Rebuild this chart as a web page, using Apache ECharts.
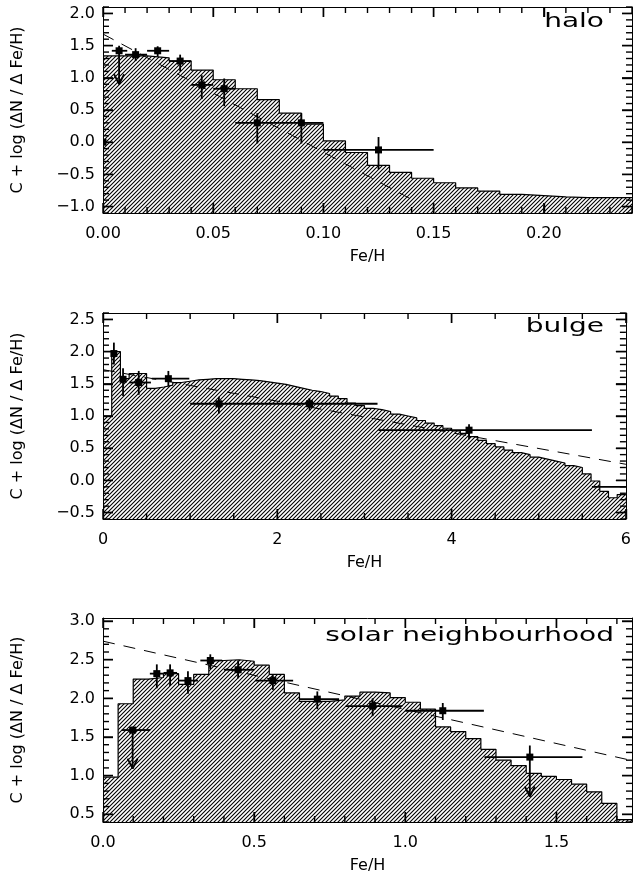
<!DOCTYPE html>
<html><head><meta charset="utf-8">
<script src="https://cdn.jsdelivr.net/npm/echarts@6/dist/echarts.min.js"></script>
<style>html,body{margin:0;padding:0;background:#fff}#c{width:634px;height:875px}</style>
</head><body><div id="c"></div>
<script>
// ================= DATA =================
// --- halo ---
const haloBinStart = 0.00, haloBinWidth = 0.01;
const haloHist = [1.34, 1.34, 1.31, 1.26, 1.12, 0.97, 0.83, 0.66, 0.45, 0.28, 0.02, -0.16,
                  -0.36, -0.47, -0.56, -0.63, -0.71, -0.76, -0.81, -0.83, -0.85, -0.86, -0.86, -0.86];
const haloPtX  = [0.000, 0.0073, 0.0148, 0.0248, 0.035, 0.0448, 0.055, 0.070, 0.090, 0.125];
const haloPtY  = [0.00, 1.42, 1.36, 1.42, 1.26, 0.89, 0.83, 0.30, 0.30, -0.12];
const haloXLo  = [null, 0.004, 0.010, 0.020, 0.030, 0.040, 0.050, 0.060, 0.080, 0.100];
const haloXHi  = [null, 0.011, 0.020, 0.030, 0.040, 0.050, 0.060, 0.080, 0.100, 0.150];
const haloYLo  = [null, null, 1.26, 1.33, 1.10, 0.67, 0.56, -0.02, -0.02, -0.42];
const haloYHi  = [null, 1.50, 1.46, 1.49, 1.36, 1.04, 0.99, 0.45, 0.45, 0.08];
const haloArrow = [null, 0.90, null, null, null, null, null, null, null, null];
const haloFitX = [0.0, 0.1417];
const haloFitY = [1.68, -0.92];
const haloXTicks = [0, 0.05, 0.10, 0.15, 0.20];
const haloYTicks = [-1.0, -0.5, 0.0, 0.5, 1.0, 1.5, 2.0];

// --- bulge ---
const bulgeBinStart = 0.0, bulgeBinWidth = 0.1;
const bulgeHist = [1.00, 2.00, 1.58, 1.66, 1.66, 1.43, 1.45, 1.48, 1.52, 1.54,
                   1.56, 1.57, 1.58, 1.58, 1.58, 1.57, 1.56, 1.55, 1.53, 1.51,
                   1.49, 1.46, 1.43, 1.40, 1.38, 1.35, 1.31, 1.27, 1.20, 1.16,
                   1.12, 1.10, 1.07, 1.03, 1.00, 0.97, 0.93, 0.89, 0.85, 0.81,
                   0.77, 0.73, 0.68, 0.62, 0.57, 0.52, 0.47, 0.43, 0.40, 0.36,
                   0.33, 0.30, 0.27, 0.23, 0.20, 0.10, -0.01, -0.17, -0.27, -0.22];
const bulgePtX = [0.125, 0.23, 0.41, 0.75, 1.33, 2.37, 4.20];
const bulgePtY = [1.97, 1.57, 1.52, 1.58, 1.19, 1.19, 0.78];
const bulgeXLo = [0.10, 0.20, 0.30, 0.56, 1.00, 1.85, 3.16];
const bulgeXHi = [0.15, 0.27, 0.55, 0.99, 1.85, 3.15, 5.61];
const bulgeYLo = [1.80, 1.31, 1.33, 1.46, 1.04, 1.08, 0.64];
const bulgeYHi = [2.14, 1.74, 1.70, 1.70, 1.30, 1.28, 0.87];
const bulgeArrow = [null, null, null, null, null, null, null];
const bulgeTailX = [5.61, 6.0];
const bulgeTailY = [-0.10, -0.10];
const bulgeFitX = [0.0, 6.0];
const bulgeFitY = [1.72, 0.25];
const bulgeXTicks = [0, 2, 4, 6];
const bulgeYTicks = [-0.5, 0.0, 0.5, 1.0, 1.5, 2.0, 2.5];

// --- solar neighbourhood ---
const solarBinStart = 0.0, solarBinWidth = 0.05;
const solarHist = [0.98, 1.93, 2.25, 2.27, 2.32, 2.18, 2.31, 2.49, 2.50, 2.48,
                   2.43, 2.31, 2.07, 1.96, 1.96, 1.98, 2.03, 2.08, 2.07, 2.01,
                   1.95, 1.86, 1.63, 1.57, 1.48, 1.34, 1.20, 1.13, 1.03, 0.99,
                   0.95, 0.89, 0.79, 0.64, 0.43];
const solarPtX = [0.098, 0.178, 0.222, 0.281, 0.355, 0.447, 0.562, 0.709, 0.892, 1.124, 1.412];
const solarPtY = [1.59, 2.32, 2.33, 2.23, 2.49, 2.37, 2.23, 1.99, 1.90, 1.84, 1.24];
const solarXLo = [0.062, 0.155, 0.200, 0.250, 0.322, 0.400, 0.504, 0.648, 0.803, 1.000, 1.262];
const solarXHi = [0.156, 0.200, 0.245, 0.314, 0.394, 0.500, 0.629, 0.781, 0.990, 1.260, 1.586];
const solarYLo = [null, 2.13, 2.16, 2.06, 2.38, 2.26, 2.11, 1.86, 1.77, 1.72, null];
const solarYHi = [null, 2.44, 2.44, 2.35, 2.57, 2.49, 2.30, 2.09, 2.00, 1.94, 1.39];
const solarArrow = [1.09, null, null, null, null, null, null, null, null, null, 0.73];
const solarFitX = [0.0, 1.75];
const solarFitY = [2.74, 1.195];
const solarXTicks = [0.0, 0.5, 1.0, 1.5];
const solarYTicks = [0.5, 1.0, 1.5, 2.0, 2.5, 3.0];

// ================= BUILD =================
const FONT = 'DejaVu Sans';
const BLACK = '#000';
const minusFmt = (d) => (v) => v.toFixed(d).replace('-', '\u2212');

function hatchCanvas() {
  const s = 4;
  const c = document.createElement('canvas');
  c.width = s; c.height = s;
  const g = c.getContext('2d');
  g.fillStyle = '#fff'; g.fillRect(0, 0, s, s);
  g.strokeStyle = '#000'; g.lineWidth = 1.1;
  g.beginPath();
  g.moveTo(0, s); g.lineTo(s, 0);
  g.moveTo(-1, 1); g.lineTo(1, -1);
  g.moveTo(s - 1, s + 1); g.lineTo(s + 1, s - 1);
  g.stroke();
  return c;
}
const hatch = { image: hatchCanvas(), repeat: 'repeat' };

function stepVals(min, max, step) {
  const out = [];
  const a = Math.ceil(min / step - 1e-9), b = Math.floor(max / step + 1e-9);
  for (let k = a; k <= b; k++) out.push(+(k * step).toFixed(6));
  return out;
}

const panels = [
  { grid: {left: 103, top: 7, width: 529, height: 206},
    xr: [0, 0.24], yr: [-1.1, 2.1], xt: haloXTicks, yt: haloYTicks, xm: 0.01, ym: 0.1,
    xfmt: minusFmt(2), yfmt: minusFmt(1),
    bin0: haloBinStart, bw: haloBinWidth, hist: haloHist,
    px: haloPtX, py: haloPtY, xlo: haloXLo, xhi: haloXHi, ylo: haloYLo, yhi: haloYHi, arrow: haloArrow,
    fx: haloFitX, fy: haloFitY, title: 'halo', tx: 604, ty: 22 },
  { grid: {left: 103, top: 313, width: 529, height: 206},
    xr: [0, 6], yr: [-0.6, 2.6], xt: bulgeXTicks, yt: bulgeYTicks, xm: 0.5, ym: 0.1,
    xfmt: minusFmt(0), yfmt: minusFmt(1),
    bin0: bulgeBinStart, bw: bulgeBinWidth, hist: bulgeHist,
    px: bulgePtX, py: bulgePtY, xlo: bulgeXLo, xhi: bulgeXHi, ylo: bulgeYLo, yhi: bulgeYHi, arrow: bulgeArrow,
    fx: bulgeFitX, fy: bulgeFitY, tail: [bulgeTailX, bulgeTailY], title: 'bulge', tx: 604, ty: 327 },
  { grid: {left: 103, top: 618, width: 529, height: 207},
    xr: [0, 1.75], yr: [0.4, 3.04], xt: solarXTicks, yt: solarYTicks, xm: 0.1, ym: 0.1,
    xfmt: minusFmt(1), yfmt: minusFmt(1),
    bin0: solarBinStart, bw: solarBinWidth, hist: solarHist,
    px: solarPtX, py: solarPtY, xlo: solarXLo, xhi: solarXHi, ylo: solarYLo, yhi: solarYHi, arrow: solarArrow,
    fx: solarFitX, fy: solarFitY, title: 'solar neighbourhood', tx: 614, ty: 636 }
];

const grid = [], xAxis = [], yAxis = [], series = [], graphic = [];
const txt = { color: BLACK, fontFamily: FONT, fontSize: 16 };
const MAJOR_LEN = 10, MINOR_LEN = 6;
const tickStyle = { color: BLACK, width: 1.4 };

panels.forEach((P, gi) => {
  grid.push(Object.assign({ show: false, containLabel: false }, P.grid));
  const xmin = P.xr[0], xmax = P.xr[1], ymin = P.yr[0], ymax = P.yr[1];
  const cx = { gridIndex: gi, type: 'value', min: xmin, max: xmax, z: 10, splitLine: { show: false }, axisPointer: { show: false } };
  const cy = { gridIndex: gi, type: 'value', min: ymin, max: ymax, z: 10, splitLine: { show: false }, axisPointer: { show: false } };
  ['bottom', 'top'].forEach((pos) => {
    xAxis.push(Object.assign({}, cx, {
      position: pos,
      axisLine: { show: true, onZero: false, lineStyle: { color: BLACK, width: 1 } },
      axisTick: { show: true, inside: true, length: MAJOR_LEN, customValues: P.xt, lineStyle: tickStyle },
      axisLabel: pos === 'bottom'
        ? Object.assign({ show: true, customValues: P.xt, formatter: P.xfmt, margin: 13 }, txt)
        : { show: false },
      name: pos === 'bottom' ? 'Fe/H' : '',
      nameLocation: 'middle', nameGap: 36, nameTextStyle: txt
    }));
  });
  ['left', 'right'].forEach((pos) => {
    yAxis.push(Object.assign({}, cy, {
      position: pos,
      axisLine: { show: true, onZero: false, lineStyle: { color: BLACK, width: 1 } },
      axisTick: { show: true, inside: true, length: MAJOR_LEN, customValues: P.yt, lineStyle: tickStyle },
      axisLabel: pos === 'left'
        ? Object.assign({ show: true, customValues: P.yt, formatter: P.yfmt, margin: 8 }, txt)
        : { show: false },
      name: pos === 'left' ? 'C + log (\u0394N / \u0394 Fe/H)' : '',
      nameLocation: 'middle', nameGap: 77, nameRotate: 90, nameTextStyle: txt
    }));
  });
  const xi = gi * 2, yi = gi * 2;

  // histogram (stepped, hatched)
  const hd = P.hist.map((v, i) => [P.bin0 + i * P.bw, v]);
  hd.push([P.bin0 + P.hist.length * P.bw, P.hist[P.hist.length - 1]]);
  series.push({
    type: 'line', xAxisIndex: xi, yAxisIndex: yi, data: hd, step: 'end', symbol: 'none',
    lineStyle: { color: BLACK, width: 1.2 }, areaStyle: { color: hatch, opacity: 1, origin: 'start' },
    z: 2, silent: true, animation: false, clip: true
  });
  // dashed fit line
  series.push({
    type: 'line', xAxisIndex: xi, yAxisIndex: yi, data: P.fx.map((x, i) => [x, P.fy[i]]), symbol: 'none',
    lineStyle: { color: BLACK, width: 1, type: [12, 9] }, z: 3, silent: true, animation: false, clip: true
  });
  if (P.tail) {
    series.push({
      type: 'line', xAxisIndex: xi, yAxisIndex: yi, data: P.tail[0].map((x, i) => [x, P.tail[1][i]]), symbol: 'none',
      lineStyle: { color: BLACK, width: 1.8 }, z: 4, silent: true, animation: false, clip: true
    });
  }
  // data points with error bars / upper-limit arrows
  series.push({
    type: 'custom', xAxisIndex: xi, yAxisIndex: yi, clip: true, z: 5, silent: true, animation: false,
    data: P.px.map((x, i) => [x, P.py[i]]),
    encode: { x: 0, y: 1 },
    renderItem: function (params, api) {
      const i = params.dataIndex;
      const st = { stroke: BLACK, lineWidth: 1.8 };
      const ch = [];
      const p = api.coord([P.px[i], P.py[i]]);
      const seg = (a, b) => ch.push({ type: 'line', shape: { x1: a[0], y1: a[1], x2: b[0], y2: b[1] }, style: st });
      if (P.xlo[i] != null) seg(api.coord([P.xlo[i], P.py[i]]), api.coord([P.xhi[i], P.py[i]]));
      if (P.ylo[i] != null) seg(api.coord([P.px[i], P.ylo[i]]), p);
      if (P.yhi[i] != null) seg(p, api.coord([P.px[i], P.yhi[i]]));
      if (P.arrow[i] != null) {
        const t = api.coord([P.px[i], P.arrow[i]]);
        seg(p, t);
        seg(t, [t[0] - 5, t[1] - 10]);
        seg(t, [t[0] + 5, t[1] - 10]);
      }
      ch.push({ type: 'rect', shape: { x: p[0] - 3.5, y: p[1] - 3.5, width: 7, height: 7 }, style: { fill: BLACK } });
      return { type: 'group', children: ch };
    }
  });
  // inward minor/major tick marks on all four sides, positioned through the axis scales
  const isMajor = (v, arr) => arr.some((m) => Math.abs(m - v) < 1e-6);
  const ticks = [];
  stepVals(xmin, xmax, P.xm).forEach((v) => ticks.push({ d: 'x', v, len: isMajor(v, P.xt) ? MAJOR_LEN : MINOR_LEN }));
  stepVals(ymin, ymax, P.ym).forEach((v) => ticks.push({ d: 'y', v, len: isMajor(v, P.yt) ? MAJOR_LEN : MINOR_LEN }));
  series.push({
    type: 'custom', xAxisIndex: xi, yAxisIndex: yi, clip: false, z: 9, silent: true, animation: false,
    data: ticks.map((t) => (t.d === 'x' ? [t.v, (ymin + ymax) / 2] : [(xmin + xmax) / 2, t.v])),
    encode: { x: 0, y: 1 },
    renderItem: function (params, api) {
      const t = ticks[params.dataIndex];
      const st = { stroke: BLACK, lineWidth: 1.4 };
      const L = (x1, y1, x2, y2) => ({ type: 'line', shape: { x1, y1, x2, y2 }, style: st });
      let a, b;
      if (t.d === 'x') {
        a = api.coord([t.v, ymin]); b = api.coord([t.v, ymax]);
        return { type: 'group', children: [L(a[0], a[1], a[0], a[1] - t.len), L(b[0], b[1], b[0], b[1] + t.len)] };
      }
      a = api.coord([xmin, t.v]); b = api.coord([xmax, t.v]);
      return { type: 'group', children: [L(a[0], a[1], a[0] + t.len, a[1]), L(b[0], b[1], b[0] - t.len, b[1])] };
    }
  });
  graphic.push({
    type: 'text', x: P.tx, y: P.ty, scaleX: 1.4, scaleY: 1, z: 10,
    style: { text: P.title, font: '20px "DejaVu Sans"', fill: BLACK, align: 'right', verticalAlign: 'middle' }
  });
});

const chart = echarts.init(document.getElementById('c'), null, { renderer: 'canvas' });
chart.setOption({ backgroundColor: '#fff', animation: false, grid, xAxis, yAxis, series, graphic });
</script>
</body></html>
